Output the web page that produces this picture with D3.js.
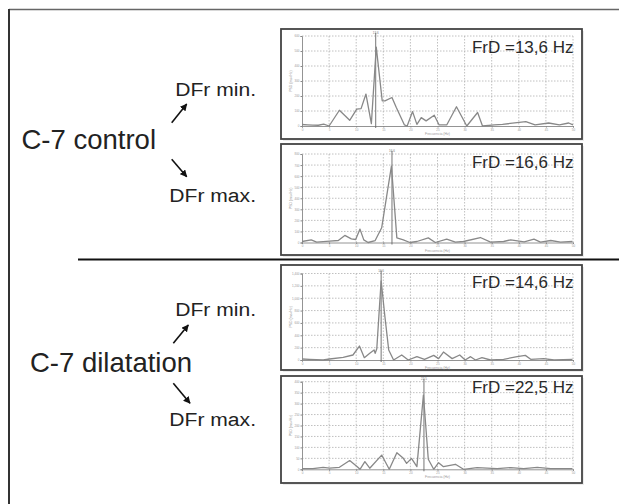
<!DOCTYPE html>
<html>
<head>
<meta charset="utf-8">
<script src="https://cdn.jsdelivr.net/npm/d3@7"></script>
<style>
  body { margin: 0; background: #fff; }
  svg { display: block; font-family: "Liberation Sans", Arial, sans-serif; }
</style>
</head>
<body>
<script>
// groups / labels
var groups = ["C-7 control", "C-7 dilatation"];
var subLabels = ["DFr min.", "DFr max."];
var frdLabels = ["FrD =13,6 Hz", "FrD =16,6 Hz", "FrD =14,6 Hz", "FrD =22,5 Hz"];
var frdValues = [13.6, 16.6, 14.6, 22.5];

// spectra (Hz / PSD)
var freqCtrlMin = [0, 1, 2, 3, 4, 5, 6.9, 8.8, 10.1, 10.9, 11.8, 12.8, 13.7, 14.8, 15.3, 16.6, 17.4, 18.9, 19.4, 20.4, 21.2, 22.0, 22.9, 24.4, 25.3, 26.7, 28.5, 30.4, 32.4, 33.3, 35.5, 37, 41.3, 43, 45.5, 47.5, 49.2, 50];
var psdCtrlMin  = [10, 8, 6, 5, 12, 0, 105, 38, 112, 116, 213, 16, 526, 168, 168, 190, 123, 7, 0, 96, 11, 56, 34, 72, 7, 7, 128, 0, 90, 0, 7, 11, 29, 7, 20, 7, 20, 7];

var freqCtrlMax = [0, 1.7, 2.7, 5.1, 6.7, 7.9, 9.1, 9.9, 10.7, 11.4, 12.2, 13.5, 14.7, 15.6, 16.5, 17.5, 18.7, 19.9, 21.2, 23.3, 24.6, 26.7, 28.3, 29.8, 32.9, 34.8, 37.2, 38.5, 41, 42.8, 44, 45.9, 47.7, 49.9];
var psdCtrlMax  = [9, 24, 3, 12, 18, 64, 33, 27, 121, 24, 0, 18, 133, 412, 691, 42, 24, 0, 9, 42, 0, 30, 3, 9, 45, 3, 9, 24, 6, 30, 3, 18, 3, 9];

var freqDilMin = [0, 1.4, 3.9, 5.1, 7.6, 9.4, 10.6, 11.5, 12.5, 13.3, 13.5, 13.8, 14.6, 15.3, 16.0, 16.9, 18.4, 19.6, 21.2, 22.6, 24.3, 25.2, 26.1, 27.7, 29.1, 30.1, 31.1, 32.0, 33.2, 34.8, 37.2, 39.7, 41.2, 42.2, 44.6, 46.5, 49.9];
var psdDilMin  = [16, 11, 0, 16, 43, 81, 226, 38, 108, 162, 108, 183, 1282, 700, 162, 0, 81, 0, 54, 11, 75, 22, 129, 22, 81, 0, 54, 0, 38, 0, 11, 54, 75, 11, 22, 0, 11];

var freqDilMax = [0, 2, 3.9, 5.1, 6.9, 8.8, 10.2, 10.7, 11.6, 12.5, 14.7, 16.1, 17.5, 18.7, 19.3, 20.2, 21.2, 22.4, 23.3, 24.3, 25.2, 26.1, 28.3, 29.8, 32.3, 36, 38.5, 40.9, 43.4, 45.9, 49.9];
var psdDilMax  = [3, 3, 9, 5, 9, 40, 12, 0, 35, 5, 65, 0, 76, 50, 27, 50, 12, 339, 46, 0, 30, 12, 23, 0, 8, 3, 8, 3, 9, 3, 3];

var yMaxes = [600, 800, 1400, 400];
var yStepCounts = [6, 8, 7, 8];

var series = [
  [freqCtrlMin, psdCtrlMin],
  [freqCtrlMax, psdCtrlMax],
  [freqDilMin, psdDilMin],
  [freqDilMax, psdDilMax]
];

// layout
var W = 619, H = 504;
var boxX0 = 281, boxX1 = 582;
var boxTops = [29, 144, 265, 376];
var boxBots = [139, 255, 370, 483];
var plotTops = [36, 154, 273.5, 381.7];
var plotBots = [126, 242.5, 360, 469.3];
var plotX0 = 302, plotX1 = 573;
var labelDy = [23.7, 24.3, 23.3, 16.5];

var svg = d3.select("body").append("svg")
  .attr("width", W)
  .attr("height", H);

// outer frame (top + left only)
svg.append("line").attr("x1", 9).attr("x2", W).attr("y1", 9.5).attr("y2", 9.5)
  .attr("stroke", "#666").attr("stroke-width", 1.5);
svg.append("line").attr("x1", 9).attr("x2", 9).attr("y1", 9).attr("y2", H)
  .attr("stroke", "#333").attr("stroke-width", 2);

// divider
svg.append("line").attr("x1", 78).attr("x2", W).attr("y1", 259.5).attr("y2", 259.5)
  .attr("stroke", "#111").attr("stroke-width", 2);

var x = d3.scaleLinear().domain([0, 50]).range([plotX0, plotX1]);

series.forEach(function(s, i) {
  var g = svg.append("g");
  var y = d3.scaleLinear().domain([0, yMaxes[i]]).range([plotBots[i], plotTops[i]]);

  // shadow + box
  g.append("rect")
    .attr("x", boxX0 + 2).attr("y", boxTops[i] + 2)
    .attr("width", boxX1 - boxX0).attr("height", boxBots[i] - boxTops[i])
    .attr("fill", "#ececec");
  g.append("rect")
    .attr("x", boxX0).attr("y", boxTops[i])
    .attr("width", boxX1 - boxX0).attr("height", boxBots[i] - boxTops[i])
    .attr("fill", "#fff").attr("stroke", "#444").attr("stroke-width", 1.8);

  var yTicks = d3.range(0, yStepCounts[i] + 1).map(function(k) { return k * yMaxes[i] / yStepCounts[i]; });

  // grid
  g.selectAll(".hg").data(yTicks.slice(1)).enter().append("line")
    .attr("x1", plotX0).attr("x2", plotX1)
    .attr("y1", function(d) { return y(d); }).attr("y2", function(d) { return y(d); })
    .attr("stroke", "#b0b0b0").attr("stroke-width", 0.8).attr("stroke-dasharray", "1.5,1.5");
  g.selectAll(".vg").data(x.ticks(10).slice(1)).enter().append("line")
    .attr("x1", function(d) { return x(d); }).attr("x2", function(d) { return x(d); })
    .attr("y1", plotTops[i]).attr("y2", plotBots[i])
    .attr("stroke", "#b0b0b0").attr("stroke-width", 0.8).attr("stroke-dasharray", "1.5,1.5");

  // axes
  var ax = g.append("g").attr("transform", "translate(0," + plotBots[i] + ")")
    .call(d3.axisBottom(x).ticks(10).tickSize(1.5).tickPadding(1));
  var ay = g.append("g").attr("transform", "translate(" + plotX0 + ",0)")
    .call(d3.axisLeft(y).tickValues(yTicks).tickSize(1.5).tickPadding(1));
  [ax, ay].forEach(function(a) {
    a.select(".domain").attr("stroke", "#888").attr("stroke-width", 0.9);
    a.selectAll(".tick line").attr("stroke", "#888");
    a.selectAll("text").attr("font-size", 3).attr("fill", "#999");
  });

  g.append("text")
    .attr("x", (plotX0 + plotX1) / 2).attr("y", plotBots[i] + 9)
    .attr("text-anchor", "middle").attr("font-size", 3.5).attr("fill", "#999")
    .text("Frecuencia (Hz)");
  g.append("text")
    .attr("transform", "translate(" + (plotX0 - 10) + "," + ((plotTops[i] + plotBots[i]) / 2) + ") rotate(-90)")
    .attr("text-anchor", "middle").attr("font-size", 3.5).attr("fill", "#999")
    .text("PSD (ms²/Hz)");

  // peak cursor
  g.append("line")
    .attr("x1", x(frdValues[i])).attr("x2", x(frdValues[i]))
    .attr("y1", plotTops[i] - 3).attr("y2", plotBots[i] + 2)
    .attr("stroke", "#666").attr("stroke-width", 0.9);
  g.append("text")
    .attr("x", x(frdValues[i])).attr("y", plotTops[i] - 2)
    .attr("text-anchor", "middle").attr("font-size", 3).attr("fill", "#777")
    .text(frdValues[i]);

  // spectrum
  var pts = s[0].map(function(f, k) { return [f, s[1][k]]; });
  g.append("path")
    .datum(pts)
    .attr("fill", "none")
    .attr("stroke", "#888")
    .attr("stroke-width", 1.3)
    .attr("stroke-linejoin", "round")
    .attr("d", d3.line().x(function(d) { return x(d[0]); }).y(function(d) { return y(d[1]); }));

  // FrD label
  g.append("text")
    .attr("x", plotX1 + 0.5).attr("y", boxTops[i] + labelDy[i])
    .attr("text-anchor", "end").attr("font-size", 17).attr("fill", "#2a2a2a")
    .text(frdLabels[i]);
});

// left side labels
var groupY = [149, 371.5];
var groupX = [21.5, 30];
var minY = [95.7, 315.7], maxY = [201.7, 425.7];
var arrowUp = [[171.7, 122.7, 186.7, 104], [173.3, 343.3, 188.3, 325]];
var arrowDn = [[171.7, 159.3, 186.7, 176.7], [173.3, 383.3, 190, 403.3]];

svg.append("defs").append("marker")
  .attr("id", "ah").attr("viewBox", "0 0 10 10")
  .attr("refX", 9).attr("refY", 5)
  .attr("markerWidth", 4.5).attr("markerHeight", 4.5)
  .attr("orient", "auto")
  .append("path").attr("d", "M0,0L10,5L0,10z").attr("fill", "#111");

function subLabel(txt, yy) {
  svg.append("text")
    .attr("transform", "translate(256," + yy + ") scale(1.11,1)")
    .attr("text-anchor", "end").attr("font-size", 19).attr("fill", "#222")
    .text(txt);
}

groups.forEach(function(name, i) {
  svg.append("text").attr("x", groupX[i]).attr("y", groupY[i])
    .attr("font-size", 27.5).attr("fill", "#222").text(name);
  subLabel(subLabels[0], minY[i]);
  subLabel(subLabels[1], maxY[i]);
  [arrowUp[i], arrowDn[i]].forEach(function(a) {
    svg.append("line")
      .attr("x1", a[0]).attr("y1", a[1]).attr("x2", a[2]).attr("y2", a[3])
      .attr("stroke", "#111").attr("stroke-width", 1.6)
      .attr("marker-end", "url(#ah)");
  });
});
</script>
</body>
</html>
